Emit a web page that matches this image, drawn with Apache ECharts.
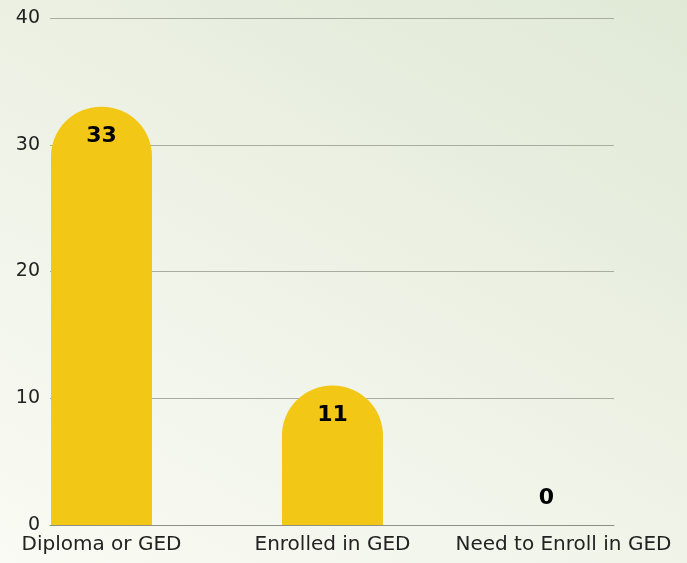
<!DOCTYPE html>
<html lang="en">
<head>
    <meta charset="UTF-8">
    <script src="https://cdn.jsdelivr.net/npm/echarts@6/dist/echarts.min.js"></script>
    <title>GED</title>
    <style>
        html, body { margin: 0; padding: 0; }
        body {
            width: 687px; height: 563px; overflow: hidden;
            background: linear-gradient(30deg, #fafbf4 0%, #eef2e6 50%, #e0e9d6 100%);
        }
    </style>
</head>
<body>
<div id="main" style="width: 687px;height: 563px;"></div>
<script>
    var categories = ['Diploma or GED', 'Enrolled in GED', 'Need to Enroll in GED'];
    var counts = [33, 11, 0];
    var yTicks = [0, 10, 20, 30, 40];

    var font = 'DejaVu Sans';

    var barData = [];
    for (var i = 0; i < counts.length; i++) {
        var item = {value: [i, counts[i]]};
        if (counts[i] === 0) {
            // empty bar: label sits above the axis, a bit to the left
            item.label = {position: 'top', distance: 16, offset: [-17, 0]};
        }
        barData.push(item);
    }

    var myChart = echarts.init(document.getElementById('main'));
    var option = {
        backgroundColor: 'transparent',
        animation: false,
        grid: {left: 50, right: 73, top: 18, bottom: 38},
        xAxis: {
            type: 'value',
            min: -0.223,
            max: 2.219,
            splitLine: {show: false},
            axisLine: {show: true, lineStyle: {color: '#8d9085', width: 1}},
            axisTick: {show: false},
            axisLabel: {
                customValues: [0, 1, 2],
                formatter: function (v) { return categories[Math.round(v)]; },
                color: '#222',
                fontFamily: font,
                fontSize: 20,
                margin: 10
            }
        },
        yAxis: {
            type: 'value',
            min: yTicks[0],
            max: yTicks[yTicks.length - 1],
            interval: 10,
            axisLine: {show: false},
            axisTick: {show: false},
            splitLine: {lineStyle: {color: '#a9ada1', width: 1}},
            axisLabel: {color: '#222', fontFamily: font, fontSize: 19, margin: 10}
        },
        series: [{
            type: 'bar',
            data: barData,
            barWidth: 101,
            itemStyle: {color: '#f3c716', borderRadius: [50, 50, 0, 0]},
            label: {
                show: true,
                position: 'insideTop',
                distance: 19,
                color: '#000',
                fontFamily: font,
                fontWeight: 'bold',
                fontSize: 22,
                formatter: function (p) { return p.value[1]; }
            }
        }]
    };
    myChart.setOption(option);
</script>
</body>
</html>
